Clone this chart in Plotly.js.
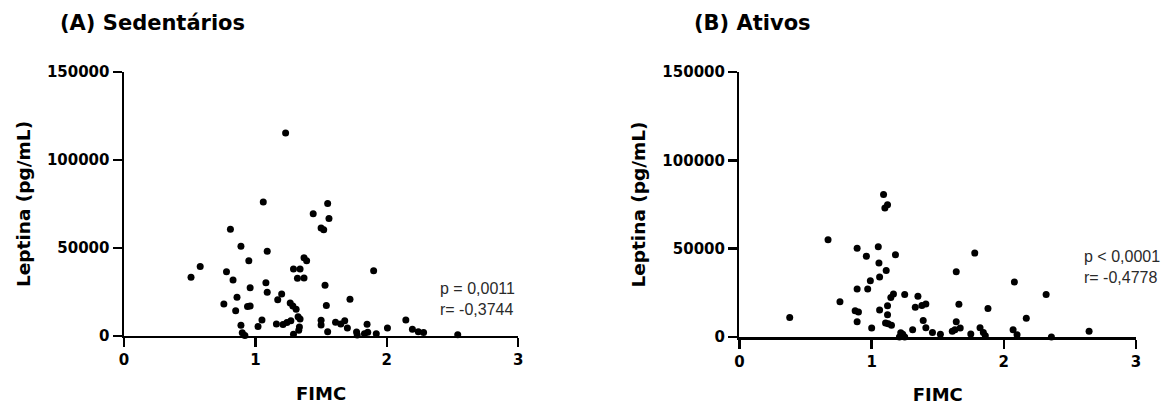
<!DOCTYPE html>
<html>
<head>
<meta charset="utf-8">
<script src="https://cdn.plot.ly/plotly-3.0.1.min.js"></script>
<style>
  html, body { margin: 0; padding: 0; background: #ffffff; }
  #chart { width: 1172px; height: 405px; }
</style>
</head>
<body>
<div id="chart"></div>
<script>
// ---- Data ----
// (A) Sedentários: FIMC vs Leptina (pg/mL)
const sedX = [0.51,0.58,0.76,0.78,0.81,0.83,0.85,0.86,0.89,0.89,
              0.90,0.92,0.94,0.96,0.95,0.96,1.02,1.05,1.06,1.08,
              1.09,1.09,1.16,1.17,1.20,1.21,1.23,1.24,1.27,1.265,
              1.285,1.29,1.29,1.31,1.32,1.325,1.33,1.335,1.34,1.34,
              1.37,1.37,1.39,1.44,1.50,1.52,1.50,1.50,1.53,1.55,
              1.54,1.56,1.55,1.61,1.65,1.68,1.70,1.72,1.77,1.775,
              1.83,1.85,1.855,1.90,1.92,2.005,2.145,2.195,2.24,2.28,
              2.54];
const sedY = [33400,39500,18100,36500,60700,31800,14300,22000,51000,6100,
              1800,200,16700,17000,42800,27400,5300,9100,76100,30200,
              48200,24800,6800,20600,23800,6500,115300,7600,8600,18700,
              17000,38000,1000,15200,32800,10900,3200,5100,38000,9600,
              32900,44400,42800,69400,61400,60300,8900,6200,28800,75200,
              17300,66700,2400,7800,6800,8700,4500,20800,2300,500,
              1300,6600,2100,37000,1300,4500,9000,3800,2400,2000,
              700];

// (B) Ativos
const atvX = [0.38,0.67,0.76,0.875,0.90,0.89,0.89,0.89,0.96,0.97,
              0.99,1.00,1.05,1.055,1.06,1.06,1.09,1.10,1.12,1.11,
              1.12,1.12,1.105,1.125,1.15,1.145,1.165,1.18,1.22,1.235,
              1.21,1.25,1.25,1.31,1.33,1.35,1.38,1.41,1.39,1.41,
              1.46,1.52,1.61,1.63,1.64,1.64,1.66,1.67,1.75,1.78,
              1.82,1.845,1.86,1.88,2.07,2.08,2.10,2.17,2.32,2.36,
              2.645];
const atvY = [11100,55100,20000,14900,14100,50300,27100,8700,45700,27100,
              31900,5100,51100,41900,34000,15300,80700,73000,74900,37700,
              17700,12600,7900,7500,6600,22400,24300,46600,2400,1600,
              0,0,24000,4150,16800,23000,17900,18700,9400,5200,
              2600,1500,3200,4150,8600,36900,18500,5100,1700,47500,
              5200,2600,700,16100,4150,31100,1300,10600,24100,0,
              3200];

// Texts
const panelTitles = ["(A) Sedentários", "(B) Ativos"];
const xTitle = "FIMC";
const yTitle = "Leptina (pg/mL)";
const statsA = ["p = 0,0011", "r= -0,3744"];
const statsB = ["p < 0,0001", "r= -0,4778"];
const xTicks = [0, 1, 2, 3];
const yTicks = [0, 50000, 100000, 150000];

// ---- Styling ----
const boldFont = {family: "DejaVu Sans, Liberation Sans, Arial, sans-serif", weight: 700, color: "#000"};

function scatter(x, y, xa, ya) {
  return {
    type: "scatter", mode: "markers", x: x, y: y, xaxis: xa, yaxis: ya,
    marker: {color: "#000", size: 7, line: {width: 0}},
    cliponaxis: false, hoverinfo: "skip", showlegend: false
  };
}

function xAxis(domain, anchor) {
  return {
    domain: domain, anchor: anchor, range: [0, 3], tickvals: xTicks,
    showline: true, linewidth: 2.5, linecolor: "#000",
    ticks: "outside", ticklen: 9, tickwidth: 2.5, tickcolor: "#000",
    showgrid: false, zeroline: false, fixedrange: true,
    tickfont: Object.assign({size: 15}, boldFont),
    title: {text: xTitle, font: Object.assign({size: 18}, boldFont), standoff: 19}
  };
}
function yAxis(domain, anchor) {
  return {
    domain: domain, anchor: anchor, range: [0, 150000], tickvals: yTicks,
    tickformat: "d",
    showline: true, linewidth: 2.5, linecolor: "#000",
    ticks: "outside", ticklen: 9, tickwidth: 2.5, tickcolor: "#000",
    showgrid: false, zeroline: false, fixedrange: true,
    tickfont: Object.assign({size: 15}, boldFont),
    title: {text: yTitle, font: Object.assign({size: 18.5}, boldFont), standoff: 12}
  };
}

const data = [scatter(sedX, sedY, "x", "y"), scatter(atvX, atvY, "x2", "y2")];

const statFont = {family: "Liberation Sans, Arial, sans-serif", size: 16, color: "#2a2a2a"};

const layout = {
  width: 1172, height: 405,
  margin: {l: 124, r: 36, t: 72, b: 68, pad: 0},
  paper_bgcolor: "#fff", plot_bgcolor: "#fff",
  xaxis: xAxis([0, 0.3895], "y"),
  yaxis: yAxis([0.004, 1], "x"),
  xaxis2: xAxis([0.6082, 1], "y2"),
  yaxis2: yAxis([0, 1], "x2"),
  annotations: [
    {text: panelTitles[0], xref: "paper", yref: "paper", x: -0.065, y: 1.185,
     xanchor: "left", yanchor: "middle", showarrow: false,
     font: Object.assign({size: 21}, boldFont)},
    {text: panelTitles[1], xref: "paper", yref: "paper", x: 0.561, y: 1.185,
     xanchor: "left", yanchor: "middle", showarrow: false,
     font: Object.assign({size: 21}, boldFont)},
    {text: statsA.join("<br>"), xref: "paper", yref: "paper", x: 0.310, y: 0.144,
     xanchor: "left", yanchor: "middle", align: "left", showarrow: false, font: statFont},
    {text: statsB.join("<br>"), xref: "paper", yref: "paper", x: 0.9466, y: 0.265,
     xanchor: "left", yanchor: "middle", align: "left", showarrow: false, font: statFont}
  ]
};

Plotly.newPlot("chart", data, layout, {staticPlot: true, displayModeBar: false});
</script>
</body>
</html>
